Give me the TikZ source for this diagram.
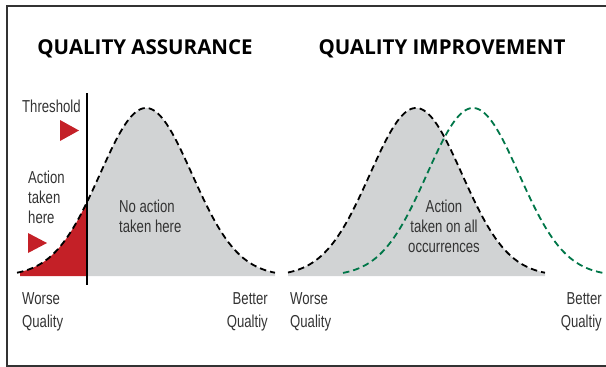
\documentclass[tikz,border=0pt]{standalone}
\usepackage{fontspec}
\setmainfont{Liberation Sans}[FakeStretch=0.76]
\newfontfamily\headfont{Open Sans}
\usetikzlibrary{positioning}
\definecolor{qared}{RGB}{196,32,39}
\definecolor{qagray}{RGB}{209,211,212}
\definecolor{qigreen}{RGB}{0,118,72}
\definecolor{qatext}{RGB}{51,51,51}
\tikzset{
    qatitle/.style={font=\headfont\bfseries\fontsize{20.5}{24}\selectfont, inner sep=0pt},
    qalabel/.style={font=\fontsize{17.3}{19.7}\selectfont, text=qatext,
        inner sep=0pt, align=left},
    qaaxis/.style={qalabel, font=\fontsize{17.3}{23}\selectfont},
    qacurve/.style={dashed, dash pattern=on 6.5pt off 4pt, line width=1.8pt},
    qaflag/.style={fill=qared},
    declare function={bell(\x,\c)=276-168*exp(-0.5*((\x-\c)/46)^2);}
}

\begin{document}
\begin{tikzpicture}[x=1pt, y=-1pt]
    \useasboundingbox (0,0) rectangle (606,367);
    % frame, open on the right
    \draw[line width=1.5pt, draw=black!80] (606,6) -- (7,6) -- (7,366) -- (606,366);

    % quality assurance: shaded bell cut at the threshold
    \fill[qagray] (87,276) -- plot[domain=87:275, samples=60] (\x,{bell(\x,146)})
        -- (275,276) -- cycle;
    \fill[qared] (20,276) -- plot[domain=20:87, samples=40] (\x,{bell(\x,146)})
        -- (87,276) -- cycle;
    \draw[qacurve] plot[domain=17:275, samples=120] (\x,{bell(\x,146)});
    \coordinate (thtop) at (87,93);
    \coordinate (thbot) at (87,285);
    \draw[line width=1.5pt] (thtop) -- (thbot);
    \fill[qaflag] (60,120) -- (79,130.5) -- (60,141) -- cycle;
    \fill[qaflag] (28,233) -- (47,243) -- (28,253) -- cycle;

    % quality improvement: whole bell shifted to the right
    \fill[qagray] (288,276) -- plot[domain=288:545, samples=100] (\x,{bell(\x,416)})
        -- (545,276) -- cycle;
    \draw[qacurve] plot[domain=288:545, samples=120] (\x,{bell(\x,416)});
    \draw[qacurve, draw=qigreen] plot[domain=343:603, samples=120] (\x,{bell(\x,473)});

    % titles
    \node[qatitle] (qatitle) at (145,49) {QUALITY ASSURANCE};
    \node[qatitle] (qititle) at (442,49) {QUALITY IMPROVEMENT};

    % labels
    \node[qalabel, anchor=north west] (threshold) at (22,100) {Threshold};
    \node[qalabel, anchor=north west] (acthere) at (28,171) {Action\\taken\\here};
    \node[qalabel, anchor=north west] (noaction) at (119,200) {No action\\taken here};
    \node[qalabel, align=center, anchor=north] (actall) at (444,200)
        {Action\\taken on all\\occurrences};
    \node[qaaxis, anchor=north west] (qaworse) at (22,292) {Worse\\Quality};
    \node[qaaxis, align=right, anchor=north east] (qabetter) at (268,292) {Better\\Qualtiy};
    \node[qaaxis, anchor=north west] (qiworse) at (290,292) {Worse\\Quality};
    \node[qaaxis, align=right, anchor=north east] (qibetter) at (602,292) {Better\\Qualtiy};
\end{tikzpicture}
\end{document}
